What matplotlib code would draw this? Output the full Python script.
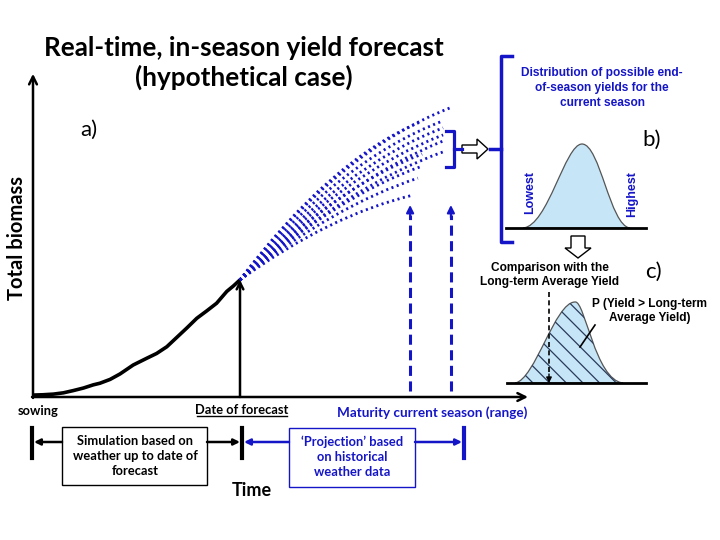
import matplotlib
matplotlib.use('Agg')
import matplotlib.pyplot as plt
from matplotlib.path import Path
from matplotlib.patches import PathPatch, Rectangle, FancyArrow

# ---------------- data (time in days after sowing, biomass in % of scale) ----
sim_days = [0, 3.3, 6.8, 10.1, 13.4, 16.8, 20.1, 22.3, 25.7, 29.0, 33.4, 37.9, 41.2,
            44.6, 47.9, 51.2, 54.6, 57.9, 61.2, 64.6, 66.8, 69.0]
sim_biomass = [0.6, 0.7, 0.9, 1.3, 2.0, 2.8, 3.8, 4.3, 5.5, 7.2, 10.0, 12.1, 13.6,
               15.7, 18.6, 21.5, 24.6, 26.9, 29.3, 33.0, 34.7, 36.6]
forecast_day = 69
forecast_biomass = 36.6
proj_end_day = [139.7, 136.7, 129.0, 136.7, 136.7, 136.7, 136.7, 129.7, 129.0, 128.3, 126.7]
proj_end_biomass = [90.6, 86.3, 85.9, 84.1, 81.9, 80.0, 76.6, 75.9, 71.9, 68.4, 63.1]
proj_ctrl_day = [102.3, 102.3, 99.0, 104.0, 104.0, 105.7, 105.7, 102.3, 102.3, 100.7, 99.0]
proj_ctrl_biomass = [77.2, 74.1, 74.1, 72.5, 70.3, 68.4, 66.3, 66.3, 63.1, 60.0, 56.9]
maturity_days = [125.7, 139.3]
maturity_arrow_top = 60

BLUE = '#1515c8'
LIGHT = '#c6e6f8'
MAIN_FONT = ['Lato', 'DejaVu Sans']
ARIAL = ['Liberation Sans', 'DejaVu Sans']

fig = plt.figure(figsize=(7.2, 5.4), dpi=100)
ov = fig.add_axes([0, 0, 1, 1])
ov.set_xlim(0, 720)
ov.set_ylim(540, 0)
ov.axis('off')

ax = fig.add_axes([33 / 720, 1 - 397 / 540, 495 / 720, 320 / 540])
ax.set_xlim(0, 165)
ax.set_ylim(0, 100)
ax.axis('off')
ax.patch.set_alpha(0)

# axes arrows
ax.annotate('', xy=(0, 1.01), xytext=(0, -0.003), xycoords='axes fraction',
            arrowprops=dict(arrowstyle='->', lw=1.8, color='k', shrinkA=0, shrinkB=0,
                            mutation_scale=14))
ax.annotate('', xy=(1.0, 0), xytext=(-0.002, 0), xycoords='axes fraction',
            arrowprops=dict(arrowstyle='->', lw=1.8, color='k', shrinkA=0, shrinkB=0,
                            mutation_scale=14))

# simulated biomass
ax.plot(sim_days, sim_biomass, color='k', lw=2.6, solid_capstyle='round',
        solid_joinstyle='round')

# projections
for et, eb, ct, cb in zip(proj_end_day, proj_end_biomass, proj_ctrl_day, proj_ctrl_biomass):
    p = Path([(forecast_day, forecast_biomass), (ct, cb), (et, eb)],
             [Path.MOVETO, Path.CURVE3, Path.CURVE3])
    ax.add_patch(PathPatch(p, fill=False, edgecolor=BLUE, lw=2.0,
                           linestyle=(0, (0.75, 1.25)), zorder=3))

# forecast date arrow
ax.annotate('', xy=(forecast_day, forecast_biomass), xytext=(forecast_day, 0),
            arrowprops=dict(arrowstyle='->', lw=1.8, color='k', shrinkA=0, shrinkB=0,
                            mutation_scale=12))

# maturity arrows
for md in maturity_days:
    ax.plot([md, md], [2, maturity_arrow_top - 3], color=BLUE, lw=2.2,
            linestyle=(0, (3.3, 1.8)))
    ax.annotate('', xy=(md, maturity_arrow_top), xytext=(md, maturity_arrow_top - 4),
                arrowprops=dict(arrowstyle='-|>', lw=1.5, color=BLUE, shrinkA=0,
                                shrinkB=0, mutation_scale=11))

# ---------------- annotations (figure pixel coordinates) ----------------
ov.text(244, 48, 'Real-time, in-season yield forecast', ha='center', va='center',
        fontsize=18.8, fontweight='bold', family=MAIN_FONT)
ov.text(244, 77, '(hypothetical case)', ha='center', va='center',
        fontsize=18.8, fontweight='bold', family=MAIN_FONT)
ov.text(89, 130, 'a)', ha='center', va='center', fontsize=16, family=MAIN_FONT)
ov.text(17, 238, 'Total biomass', ha='center', va='center', rotation=90,
        fontsize=14.5, fontweight='bold', family=MAIN_FONT)

# small bracket + hollow arrow
ov.plot([446, 454, 454, 446], [131, 131, 167, 167], color=BLUE, lw=2.3,
        solid_joinstyle='round')
ov.plot([454, 462], [149, 149], color=BLUE, lw=2.3)
ov.add_patch(FancyArrow(462, 149, 26, 0, width=8, head_width=20, head_length=11,
                        length_includes_head=True, fc='white', ec='k', lw=1.0))
# large bracket
ov.plot([512, 501, 501, 512], [56, 56, 242, 242], color=BLUE, lw=2.5,
        solid_joinstyle='round')
ov.plot([490, 501], [149, 149], color=BLUE, lw=2.5)

ov.text(602, 88, 'Distribution of possible end-\nof-season yields for the\ncurrent season',
        ha='center', va='center', fontsize=8.6, fontweight='bold', color=BLUE,
        family=ARIAL, linespacing=1.35)
ov.text(652, 140, 'b)', ha='center', va='center', fontsize=16, family=MAIN_FONT)

# distribution b
bell_b = Path([(523, 228), (548, 226), (565, 144), (582, 144),
               (600, 144), (610, 226), (630, 228), (523, 228)],
              [Path.MOVETO, Path.CURVE4, Path.CURVE4, Path.CURVE4,
               Path.CURVE4, Path.CURVE4, Path.CURVE4, Path.CLOSEPOLY])
ov.add_patch(PathPatch(bell_b, facecolor=LIGHT, edgecolor='#555555', lw=0.9))
ov.plot([506, 646], [228, 228], color='k', lw=2.0)
ov.text(530, 192, 'Lowest', rotation=90, ha='center', va='center', fontsize=9,
        fontweight='bold', color=BLUE, family=ARIAL)
ov.text(632, 194, 'Highest', rotation=90, ha='center', va='center', fontsize=9,
        fontweight='bold', color=BLUE, family=ARIAL)

# hollow down arrow
ov.add_patch(FancyArrow(578, 236, 0, 22, width=14, head_width=26, head_length=10,
                        length_includes_head=True, fc='white', ec='k', lw=1.0))

ov.text(550, 275, 'Comparison with the\nLong-term Average Yield', ha='center',
        va='center', fontsize=8.6, fontweight='bold', color='k', family=ARIAL,
        linespacing=1.3)
ov.text(653, 272, 'c)', ha='center', va='center', fontsize=16, family=MAIN_FONT)

# distribution c
bell_c = Path([(515, 383), (535, 380), (555, 302), (575, 302),
               (585, 300), (595, 380), (623, 383), (515, 383)],
              [Path.MOVETO, Path.CURVE4, Path.CURVE4, Path.CURVE4,
               Path.CURVE4, Path.CURVE4, Path.CURVE4, Path.CLOSEPOLY])
ov.add_patch(PathPatch(bell_c, facecolor=LIGHT, edgecolor='#555555', lw=0.9))
plt.rcParams['hatch.linewidth'] = 0.9
hatch_patch = PathPatch(bell_c, facecolor='none', edgecolor='#2a3a5a', lw=0,
                        hatch='\\\\')
clip = Rectangle((549, 290), 100, 95, transform=ov.transData, facecolor='none',
                 edgecolor='none')
ov.add_patch(clip)
hatch_patch.set_clip_path(clip)
ov.add_patch(hatch_patch)
ov.plot([507, 646], [383, 383], color='k', lw=2.0)
ov.plot([549, 549], [292, 375], color='k', lw=1.2, linestyle=(0, (3, 2)))
ov.annotate('', xy=(549, 383), xytext=(549, 374),
            arrowprops=dict(arrowstyle='-|>', lw=1.0, color='k', shrinkA=0,
                            shrinkB=0, mutation_scale=8))
ov.text(650, 311, 'P (Yield > Long-term\nAverage Yield)', ha='center', va='center',
        fontsize=8.6, fontweight='bold', color='k', family=ARIAL, linespacing=1.3)
ov.plot([595, 580], [325, 347], color='k', lw=1.2)

# bottom timeline
ov.text(18, 411, 'sowing', ha='left', va='center', fontsize=9.3, fontweight='bold',
        family=MAIN_FONT)
ov.text(242, 410, 'Date of forecast', ha='center', va='center', fontsize=9.3,
        fontweight='bold', family=MAIN_FONT)
ov.plot([197, 287], [416, 416], color='k', lw=1.0)
ov.text(337, 413, 'Maturity current season (range)', ha='left', va='center',
        fontsize=9.7, fontweight='bold', color=BLUE, family=MAIN_FONT)

for x, c in [(32, 'k'), (242, 'k'), (464, BLUE)]:
    ov.plot([x, x], [428, 458], color=c, lw=3)

ov.annotate('', xy=(34, 442), xytext=(62, 442),
            arrowprops=dict(arrowstyle='-|>', lw=1.8, color='k', shrinkA=0, shrinkB=0,
                            mutation_scale=9))
ov.annotate('', xy=(240, 442), xytext=(207, 442),
            arrowprops=dict(arrowstyle='-|>', lw=1.8, color='k', shrinkA=0, shrinkB=0,
                            mutation_scale=9))
ov.annotate('', xy=(244, 442), xytext=(289, 442),
            arrowprops=dict(arrowstyle='-|>', lw=1.8, color=BLUE, shrinkA=0, shrinkB=0,
                            mutation_scale=9))
ov.annotate('', xy=(462, 442), xytext=(415, 442),
            arrowprops=dict(arrowstyle='-|>', lw=1.8, color=BLUE, shrinkA=0, shrinkB=0,
                            mutation_scale=9))

ov.add_patch(Rectangle((62, 427), 145, 58, facecolor='white', edgecolor='k', lw=1.0))
ov.text(135, 456, 'Simulation based on\nweather up to date of\nforecast', ha='center',
        va='center', fontsize=9.3, fontweight='bold', family=MAIN_FONT,
        linespacing=1.3)
ov.add_patch(Rectangle((289, 428), 126, 59, facecolor='white', edgecolor=BLUE, lw=1.0))
ov.text(352, 457, '\u2018Projection\u2019 based\non historical\nweather data',
        ha='center', va='center', fontsize=9.3, fontweight='bold', color=BLUE,
        family=MAIN_FONT, linespacing=1.3)
ov.text(252, 491, 'Time', ha='center', va='center', fontsize=13, fontweight='bold',
        family=MAIN_FONT)

fig.savefig('out.png', dpi=100)
